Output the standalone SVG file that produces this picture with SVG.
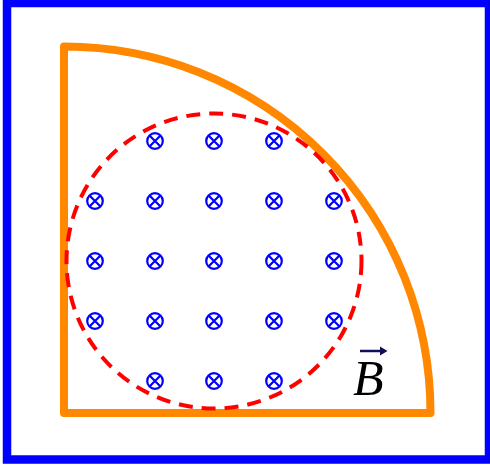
<svg xmlns="http://www.w3.org/2000/svg" width="490" height="469" viewBox="0 0 490 469">
<defs>
<style>
.frame{fill:none;stroke:#0000ff;stroke-width:8.5}
.sector{fill:none;stroke:#ff8800;stroke-width:8;stroke-linejoin:round}
.loop{fill:none;stroke:#ff0000;stroke-width:4;stroke-dasharray:14 9}
.xc{fill:none;stroke:#0000ff;stroke-width:2.2}
.lbl{font-family:"Liberation Serif",serif;font-style:italic;font-size:50px;fill:#000}
</style>
<g id="xs">
<circle class="xc" cx="0" cy="0" r="7.8"/>
<path class="xc" d="M-5.5,-5.5L5.5,5.5M5.5,-5.5L-5.5,5.5"/>
</g>
</defs>
<rect id="border" class="frame" x="7" y="3" width="482" height="456.5"/>
<g id="wire">
<path class="sector" d="M64,413 L64,46.5 A366.5,366.5 0 0 1 430.5,413 Z"/>
</g>
<g id="loop">
<circle class="loop" cx="214" cy="261" r="147.5"/>
</g>
<g id="field">
<use href="#xs" x="155" y="141"/><use href="#xs" x="214" y="141"/><use href="#xs" x="274" y="141"/>
<use href="#xs" x="95" y="201"/><use href="#xs" x="155" y="201"/><use href="#xs" x="214" y="201"/><use href="#xs" x="274" y="201"/><use href="#xs" x="334" y="201"/>
<use href="#xs" x="95" y="261"/><use href="#xs" x="155" y="261"/><use href="#xs" x="214" y="261"/><use href="#xs" x="274" y="261"/><use href="#xs" x="334" y="261"/>
<use href="#xs" x="95" y="321"/><use href="#xs" x="155" y="321"/><use href="#xs" x="214" y="321"/><use href="#xs" x="274" y="321"/><use href="#xs" x="334" y="321"/>
<use href="#xs" x="155" y="381"/><use href="#xs" x="214" y="381"/><use href="#xs" x="274" y="381"/>
</g>
<g id="label">
<text class="lbl" x="353" y="395">B</text>
<path d="M360,351 L382,351" stroke="#10105a" stroke-width="2.5"/>
<path d="M380,346.5 L387.5,351 L380,355.5 Z" fill="#10105a"/>
</g>
</svg>
